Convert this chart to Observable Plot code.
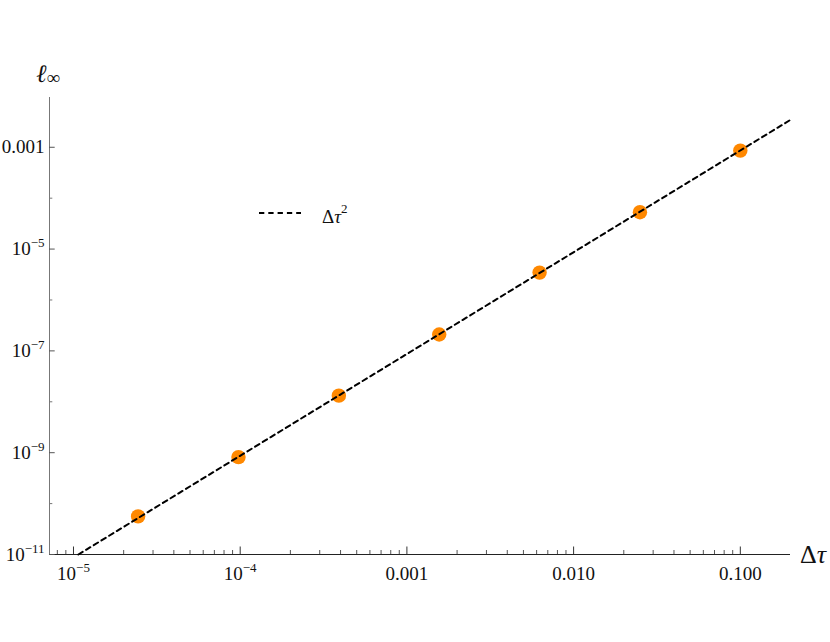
<!DOCTYPE html>
<html>
<head>
<meta charset="utf-8">
<script src="https://cdn.jsdelivr.net/npm/d3@7"></script>
<script src="https://cdn.jsdelivr.net/npm/@observablehq/plot@0.6"></script>
<style>
  html, body { margin: 0; padding: 0; background: white; }
  #chart svg { display: block; }
</style>
</head>
<body>
<div id="chart"></div>
<script>
// ---- data ----
const dtau = [0.1, 0.025, 0.00625, 0.0015625, 0.000390625, 0.00009765625, 0.0000244140625];
const linf = [8.6e-4, 5.3e-5, 3.45e-6, 2.1e-7, 1.32e-8, 8.2e-10, 5.6e-11];
// reference line Δτ² (scaled), endpoints
const refX = [1.07e-5, 0.2];
const refY = [1e-11, 3.46e-3];
// ticks
const xMajor = [1e-5, 1e-4, 1e-3, 1e-2, 1e-1];
const xLabels = ["10^-5", "10^-4", "0.001", "0.010", "0.100"];
const xMinor = [8e-6, 9e-6,
  2e-5, 3e-5, 4e-5, 5e-5, 6e-5, 7e-5, 8e-5, 9e-5,
  2e-4, 3e-4, 4e-4, 5e-4, 6e-4, 7e-4, 8e-4, 9e-4,
  2e-3, 3e-3, 4e-3, 5e-3, 6e-3, 7e-3, 8e-3, 9e-3,
  2e-2, 3e-2, 4e-2, 5e-2, 6e-2, 7e-2, 8e-2, 9e-2];
const yMajor = [1e-3, 1e-5, 1e-7, 1e-9, 1e-11];
const yLabels = ["0.001", "10^-5", "10^-7", "10^-9", "10^-11"];
const yMinor = [1e-4, 1e-6, 1e-8, 1e-10];
const xDomain = [7.18e-6, 0.2];
const yDomain = [1e-11, 0.0095];
const legendLabel = "Δτ";

const points = dtau.map((x, i) => ({x, y: linf[i]}));
const ref = refX.map((x, i) => ({x, y: refY[i]}));
const xLab = new Map(xMajor.map((d, i) => [d, xLabels[i]]));
const yLab = new Map(yMajor.map((d, i) => [d, yLabels[i]]));

const W = 830, H = 642, mL = 49, mR = 40, mT = 97, mB = 88;
const frameW = W - mL - mR, frameH = H - mT - mB;
const SERIF = "'Liberation Serif', 'Times New Roman', serif";

const chart = Plot.plot({
  width: W, height: H,
  marginLeft: mL, marginRight: mR, marginTop: mT, marginBottom: mB,
  x: {type: "log", domain: xDomain, axis: null},
  y: {type: "log", domain: yDomain, axis: null},
  style: {fontFamily: SERIF, fontSize: "19px", background: "white", color: "#111"},
  marks: [
    // tick labels
    Plot.text(xMajor, {x: d => d, frameAnchor: "bottom", dy: 19, text: d => xLab.get(d), fontSize: 19, fill: "#111", lineAnchor: "middle"}),
    Plot.text(yMajor, {y: d => d, frameAnchor: "left", dx: -5, textAnchor: "end", text: d => yLab.get(d), fontSize: 19, fill: "#111", lineAnchor: "middle"}),
    // axis lines
    Plot.ruleX([xDomain[0]], {stroke: "#777", strokeWidth: 1}),
    Plot.ruleY([yDomain[0]], {stroke: "#222", strokeWidth: 1.2}),
    // inward ticks
    Plot.ruleX(xMajor, {insetTop: frameH - 7.5, stroke: "#333"}),
    Plot.ruleX(xMinor, {insetTop: frameH - 4, stroke: "#555"}),
    Plot.ruleY(yMajor, {insetRight: frameW - 5.7, stroke: "#555"}),
    Plot.ruleY(yMinor, {insetRight: frameW - 3.3, stroke: "#777"}),
    // data
    Plot.dot(points, {x: "x", y: "y", r: 7.2, fill: "#FF8800", stroke: "none"}),
    Plot.line(ref, {x: "x", y: "y", stroke: "black", strokeWidth: 2, strokeDasharray: "5,4"})
  ]
});
document.getElementById("chart").appendChild(chart);

const svg = d3.select(chart);
// superscript exponents for "10^n" tick labels
svg.selectAll("text").each(function() {
  const t = d3.select(this);
  const m = this.textContent.match(/^10\^(-?\d+)$/);
  if (m) {
    t.text("");
    t.append("tspan").text("10");
    t.append("tspan").style("font-size", "13px").attr("dy", -8).text(m[1].replace("-", "\u2212"));
  }
});

// axis labels
const xl = svg.append("text").attr("x", 800).attr("y", 563).attr("text-anchor", "start")
  .style("font-family", SERIF).style("font-size", "26px").attr("fill", "#111");
xl.append("tspan").text("Δ");
xl.append("tspan").attr("font-style", "italic").text("τ");

const yl = svg.append("text").attr("x", 36).attr("y", 82).attr("text-anchor", "start")
  .style("font-family", SERIF).style("font-size", "25px").attr("fill", "#111");
yl.append("tspan").attr("font-style", "italic").text("ℓ");
yl.append("tspan").style("font-size", "19px").attr("dy", 2).text("∞");

// legend
svg.append("line").attr("x1", 259).attr("x2", 301).attr("y1", 213).attr("y2", 213)
  .attr("stroke", "black").attr("stroke-width", 2).attr("stroke-dasharray", "5.3,4");
const lt = svg.append("text").attr("x", 322).attr("y", 223).attr("text-anchor", "start")
  .style("font-family", SERIF).style("font-size", "19px").attr("fill", "#111");
lt.append("tspan").text(legendLabel[0]);
lt.append("tspan").attr("font-style", "italic").text(legendLabel[1]);
lt.append("tspan").style("font-size", "13px").attr("dy", -10).text("2");
</script>
</body>
</html>
